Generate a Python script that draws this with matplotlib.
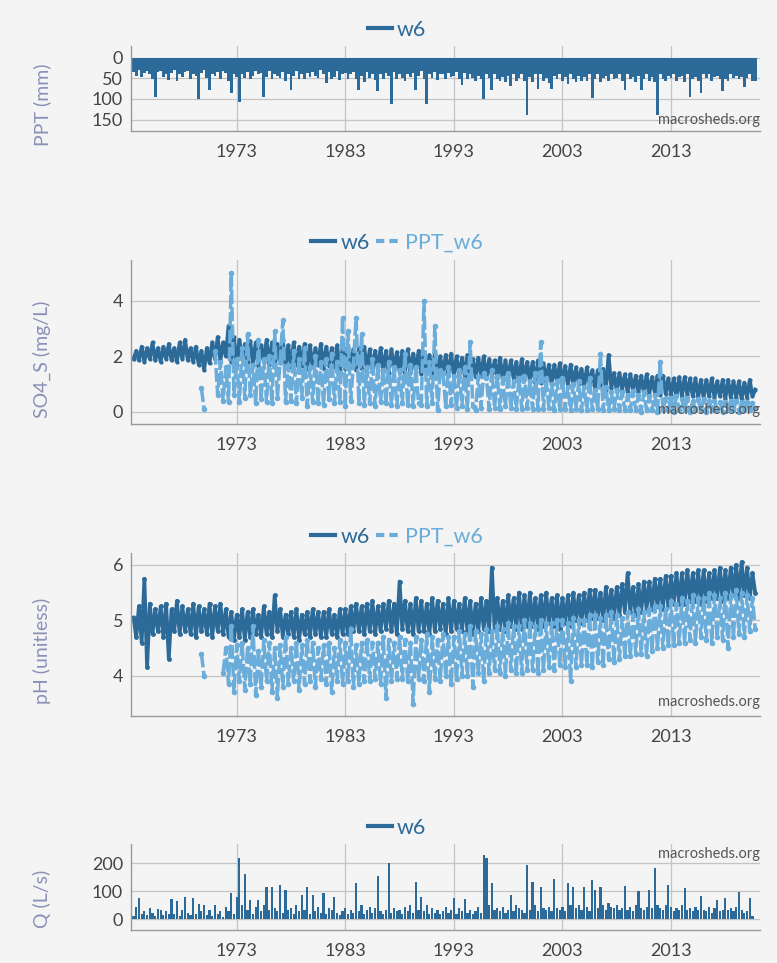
import numpy as np
import matplotlib
matplotlib.use("Agg")
import matplotlib.pyplot as plt
from matplotlib.lines import Line2D
from matplotlib import font_manager

# ---------------- data (quarterly readings from the picture) ----------------
W6_START = 1963.5      # first quarterly reading for stream / precip-depth series
PPTCHEM_START = 1969.75  # first reading of the precipitation-chemistry series
STEP = 0.25

ppt_mm = [
    34, 44,
    30, 48, 38, 33,  40, 52, 95, 35,  32, 46, 39, 54,  37, 31, 56, 40,
    47, 35, 33, 52,  39, 44, 101, 37, 31, 49, 79, 40,  44, 35, 52, 33,
    37, 58, 87, 41,  46, 107, 39, 49, 35, 53, 44, 33,  41, 37, 95, 46,
    33, 52, 39, 44,  49, 35, 58, 40,  79, 44, 33, 51,  39, 53, 37, 46,
    35, 44, 49, 31,  41, 62, 35, 52,  46, 33, 55, 39,  37, 51, 41, 35,
    52, 79, 44, 60,  35, 49, 39, 55,  82, 41, 51, 37,  44, 112, 35, 53,
    39, 49, 58, 41,  46, 37, 79, 44,  33, 53, 112, 39, 49, 35, 55, 41,
    39, 51, 37, 46,  44, 35, 53, 66,  37, 52, 41, 49,  58, 44, 51, 101,
    39, 49, 79, 41,  53, 58, 46, 60,  44, 70, 39, 56,  49, 41, 58, 139,
    46, 60, 39, 75,  41, 56, 49, 62,  75, 44, 53, 39,  58, 46, 64, 41,
    51, 60, 44, 56,  46, 58, 39, 98,  53, 41, 60, 49,  44, 56, 39, 51,
    49, 41, 58, 79,  39, 53, 46, 60,  44, 79, 51, 41,  56, 46, 60, 139,
    41, 51, 58, 44,  49, 39, 56, 46,  44, 60, 41, 95,  51, 46, 58, 87,
    41, 49, 39, 56,  46, 44, 53, 82,  51, 58, 41, 49,  44, 53, 46, 71,
    49, 41, 56, 58,
]

so4_w6 = [
    1.9, 2.2,
    1.85, 2.35, 1.8, 2.3,  1.9, 2.5, 1.85, 2.3,  1.8, 2.35, 1.9, 2.45,
    1.85, 2.3, 1.8, 2.5,  1.9, 2.6, 1.85, 2.3,  1.8, 2.35, 1.7, 2.2,
    1.5, 2.3, 1.75, 2.5,  1.9, 2.7, 1.85, 2.5,  2.0, 3.1, 1.8, 2.7,
    1.7, 2.6, 1.9, 2.45,  1.8, 2.55, 1.7, 2.5,  1.65, 2.4, 1.8, 2.6,
    1.7, 2.5, 1.6, 2.45,  1.75, 2.6, 1.65, 2.4,  1.6, 2.5, 1.7, 2.35,
    1.65, 2.45, 1.55, 2.4,  1.6, 2.3, 1.7, 2.45,  1.55, 2.35, 1.65, 2.3,
    1.6, 2.4, 1.5, 2.3,  1.55, 2.35, 1.6, 2.25,  1.5, 2.3, 1.55, 2.35,
    1.45, 2.25, 1.5, 2.2,  1.5, 2.3, 1.45, 2.2,  1.4, 2.25, 1.5, 2.15,
    1.45, 2.2, 1.4, 2.25,  1.4, 2.1, 1.45, 2.2,  1.35, 2.15, 1.4, 2.05,
    1.4, 2.1, 1.3, 2.0,  1.35, 2.05, 1.3, 2.1,  1.3, 2.0, 1.25, 1.95,
    1.3, 2.05, 1.2, 1.9,  1.25, 1.95, 1.3, 2.0,  1.2, 1.9, 1.25, 1.85,
    1.2, 1.95, 1.15, 1.85,  1.15, 1.85, 1.2, 1.8,  1.1, 1.9, 1.15, 1.8,
    1.1, 1.8, 1.05, 1.85,  1.05, 1.75, 1.1, 1.7,  1.0, 1.7, 1.05, 1.75,
    1.0, 1.65, 0.95, 1.7,  0.95, 1.6, 1.0, 1.55,  0.9, 1.6, 0.95, 1.5,
    0.85, 1.5, 0.9, 1.55,  0.8, 2.05, 0.85, 1.4,  0.75, 1.4, 0.8, 1.35,
    0.7, 1.35, 0.75, 1.3,  0.7, 1.3, 0.65, 1.35,  0.65, 1.25, 0.7, 1.3,
    0.6, 1.3, 0.65, 1.2,  0.6, 1.2, 0.55, 1.25,  0.55, 1.25, 0.6, 1.2,
    0.55, 1.2, 0.5, 1.15,  0.5, 1.15, 0.55, 1.2,  0.5, 1.1, 0.55, 1.15,
    0.45, 1.15, 0.5, 1.1,  0.5, 1.1, 0.45, 1.05,  0.5, 1.15, 0.55, 0.8,
]

so4_ppt_w6 = [
    0.85, 0.1, np.nan, np.nan, np.nan,
    2.2, 0.6, 1.8, 0.4,  1.6, 0.35, 5.0, 0.6,  1.9, 0.35, 2.3, 0.5,
    2.8, 0.6, 1.7, 0.3,  2.6, 0.45, 1.9, 0.35,  2.0, 0.3, 2.9, 0.5,
    1.8, 3.3, 0.35, 1.7,  0.4, 2.2, 0.3, 1.9,  0.5, 2.3, 0.2, 1.6,
    0.35, 2.0, 0.3, 1.8,  0.25, 1.9, 0.45, 2.1,  0.3, 1.8, 0.35, 3.4,
    0.2, 2.9, 0.4, 1.7,  3.4, 0.3, 2.8, 0.25,  1.6, 0.3, 1.9, 0.2,
    1.7, 0.35, 1.5, 0.3,  1.8, 0.25, 1.6, 0.2,  1.5, 0.3, 2.1, 0.25,
    1.7, 0.2, 1.6, 0.3,  0.25, 4.0, 0.2, 1.8,  0.3, 3.1, 0.05, 1.5,
    1.4, 0.2, 1.6, 0.25,  1.3, 0.15, 1.5, 0.2,  1.6, 0.1, 2.5, 0.2,
    0.05, 1.3, 0.15, 1.4,  1.2, 0.1, 1.5, 0.15,  1.3, 0.1, 1.2, 0.2,
    1.4, 0.15, 1.1, 0.1,  1.2, 0.1, 1.3, 0.15,  1.1, 0.1, 1.4, 0.1,
    2.5, 0.1, 1.2, 0.15,  1.0, 0.05, 1.1, 0.1,  1.2, 0.1, 0.9, 0.05,
    1.0, 0.1, 1.1, 0.05,  0.9, 0.05, 1.2, 0.1,  0.8, 0.1, 2.1, 0.05,
    0.9, 0.05, 0.7, 0.1,  0.8, 0.05, 0.7, 0.05,  0.6, 0.05, 0.75, 0.05,
    0.6, 0.0, 0.7, 0.05,  0.55, 0.05, 0.6, 0.0,  1.8, 0.05, 0.5, 0.05,
    0.5, 0.0, 0.55, 0.05,  0.45, 0.05, 0.5, 0.0,  0.4, 0.05, 0.45, 0.05,
    0.45, 0.0, 0.4, 0.05,  0.4, 0.05, 0.35, 0.0,  0.35, 0.05, 0.4, 0.05,
    0.4, 0.0, 0.35, 0.05,  0.35, 0.05, 0.3, 0.15,
]

ph_w6 = [
    5.05, 4.7,
    5.25, 4.6, 5.75, 4.15,  5.3, 4.75, 5.2, 4.8,  5.25, 4.7, 5.3, 4.3,
    5.2, 4.8, 5.35, 4.75,  5.25, 4.8, 5.2, 4.75,  5.3, 4.7, 5.25, 4.8,
    5.2, 4.75, 5.3, 4.7,  5.25, 4.8, 5.3, 4.75,  5.2, 4.7, 5.15, 4.65,
    5.1, 4.7, 5.2, 4.65,  5.15, 4.7, 5.2, 4.75,  5.1, 4.7, 5.25, 4.75,
    5.15, 4.7, 5.45, 4.8,  5.2, 4.7, 5.1, 4.75,  5.15, 4.7, 5.2, 4.65,
    5.1, 4.75, 5.15, 4.7,  5.2, 4.75, 5.15, 4.7,  5.15, 4.7, 5.2, 4.75,
    5.1, 4.7, 5.2, 4.75,  5.2, 4.75, 5.25, 4.8,  5.3, 4.8, 5.25, 4.75,
    5.3, 4.8, 5.35, 4.75,  5.25, 4.8, 5.3, 4.85,  5.35, 4.8, 5.3, 4.75,
    5.7, 4.85, 5.35, 4.8,  5.3, 4.75, 5.4, 4.8,  5.35, 4.8, 5.3, 4.75,
    5.4, 4.8, 5.35, 4.85,  5.3, 4.75, 5.4, 4.8,  5.35, 4.85, 5.3, 4.8,
    5.4, 4.8, 5.35, 4.75,  5.3, 4.8, 5.4, 4.85,  5.35, 4.8, 5.95, 4.85,
    5.4, 4.85, 5.35, 4.8,  5.45, 4.9, 5.4, 4.85,  5.5, 4.85, 5.45, 4.9,
    5.5, 4.9, 5.4, 4.85,  5.45, 4.9, 5.5, 4.95,  5.4, 4.9, 5.45, 4.85,
    5.4, 4.95, 5.45, 4.9,  5.5, 5.0, 5.45, 4.95,  5.5, 5.0, 5.55, 5.05,
    5.55, 5.05, 5.5, 5.0,  5.6, 5.1, 5.55, 5.05,  5.6, 5.1, 5.65, 5.15,
    5.85, 5.15, 5.6, 5.1,  5.65, 5.15, 5.7, 5.2,  5.7, 5.2, 5.75, 5.25,
    5.75, 5.2, 5.8, 5.25,  5.8, 5.3, 5.85, 5.3,  5.85, 5.3, 5.9, 5.35,
    5.85, 5.35, 5.9, 5.3,  5.9, 5.35, 5.85, 5.4,  5.9, 5.4, 5.95, 5.35,
    5.9, 5.4, 5.95, 5.45,  6.0, 5.4, 6.05, 5.45,  5.95, 5.4, 5.85, 5.5,
]

ph_ppt_w6 = [
    4.4, 4.0, np.nan, np.nan, np.nan, np.nan, np.nan, np.nan,
    4.05,
    4.5, 3.85, 4.9, 3.7,  4.55, 3.9, 4.6, 3.75,  4.5, 3.85, 4.9, 3.65,
    4.45, 3.8, 4.65, 3.9,  4.6, 3.7, 4.5, 3.6,  4.55, 3.8, 4.7, 3.85,
    4.5, 3.9, 4.6, 3.75,  4.55, 3.85, 4.65, 3.9,  4.6, 3.8, 4.5, 3.95,
    4.55, 3.85, 4.6, 3.7,  4.5, 3.9, 4.65, 3.85,  4.6, 3.9, 4.85, 3.8,
    4.55, 3.85, 4.6, 3.9,  4.65, 3.9, 4.6, 3.95,  4.6, 3.85, 4.7, 3.6,
    4.65, 3.9, 4.6, 3.95,  4.7, 3.95, 4.65, 3.9,  4.6, 3.5, 4.7, 3.95,
    4.65, 3.9, 4.75, 3.7,  4.7, 3.95, 4.65, 3.9,  4.75, 4.0, 4.7, 3.85,
    4.7, 3.95, 4.8, 4.0,  4.75, 4.0, 4.9, 3.8,  4.8, 4.05, 4.75, 3.9,
    4.85, 4.05, 4.8, 4.1,  4.9, 4.05, 4.85, 4.0,  4.95, 4.1, 4.9, 4.05,
    4.9, 4.05, 5.0, 4.1,  4.95, 4.1, 4.9, 4.05,  5.0, 4.1, 4.95, 4.15,
    4.95, 4.1, 5.0, 4.2,  5.0, 4.15, 4.95, 3.9,  5.05, 4.15, 5.0, 4.2,
    5.0, 4.2, 5.1, 4.15,  5.1, 4.25, 5.05, 4.2,  5.1, 4.3, 5.15, 4.25,
    5.1, 4.3, 5.05, 4.35,  5.15, 4.35, 5.1, 4.4,  5.2, 4.4, 5.15, 4.35,
    5.2, 4.45, 5.25, 4.5,  5.25, 4.5, 5.2, 4.55,  5.35, 4.55, 5.3, 4.6,
    5.4, 4.6, 5.35, 4.65,  5.45, 4.6, 5.4, 4.7,  5.4, 4.65, 5.5, 4.6,
    5.45, 4.7, 5.4, 4.65,  5.5, 4.5, 5.45, 4.7,  5.55, 4.75, 5.5, 4.7,
    5.45, 4.8, 5.4, 4.85,
]

q_ls = [
    12, 45,
    77, 18, 28, 15,  40, 22, 12, 38,  35, 15, 28, 18,  71, 18, 65, 12,
    32, 81, 22, 15,  77, 18, 55, 28,  50, 15, 32, 12,  50, 18, 28, 10,
    45, 28, 95, 18,  81, 218, 50, 162,  32, 69, 18, 45,  69, 28, 50, 117,
    32, 117, 40, 28,  123, 22, 105, 32,  40, 18, 50, 28,  87, 32, 117, 18,
    87, 28, 45, 22,  93, 18, 40, 32,  79, 22, 15, 28,  40, 18, 32, 22,
    129, 28, 50, 18,  32, 45, 22, 40,  155, 28, 18, 32,  200, 22, 40, 28,
    32, 18, 45, 28,  50, 22, 135, 32,  81, 28, 50, 18,  40, 22, 32, 18,
    28, 45, 22, 32,  75, 18, 40, 28,  71, 22, 32, 18,  28, 45, 22, 230,
    218, 50, 129, 32,  40, 28, 45, 22,  32, 87, 28, 50,  40, 32, 22, 194,
    32, 135, 50, 28,  117, 40, 32, 45,  28, 144, 40, 32,  45, 28, 129, 50,
    114, 40, 50, 32,  117, 45, 28, 140,  105, 40, 117, 50,  32, 60, 45, 40,
    50, 32, 40, 119,  32, 45, 28, 50,  102, 40, 32, 45,  105, 40, 182, 50,
    40, 32, 50, 123,  45, 28, 40, 32,  50, 111, 32, 40,  28, 45, 32, 85,
    32, 28, 45, 22,  40, 69, 28, 32,  75, 32, 40, 28,  45, 99, 32, 22,
    28, 75, 12,
]

series_names = ["w6", "PPT_w6"]
x_ticks = [1973, 1983, 1993, 2003, 2013]
x_tick_labels = ["1973", "1983", "1993", "2003", "2013"]
y_labels = ["PPT (mm)", "SO4_S (mg/L)", "pH (unitless)", "Q (L/s)"]

# ---------------- style ----------------
DARK = "#2b6a99"
LIGHT = "#6aacda"
BG = "#f4f4f4"
GRID = "#c4c4c4"
TICK = "#444444"
YLAB = "#8a90b8"

avail = {f.name for f in font_manager.fontManager.ttflist}
FONT = "Lato" if "Lato" in avail else "DejaVu Sans"
plt.rcParams["font.family"] = [FONT, "DejaVu Sans"]

def tgrid(start, n):
    return start + STEP * np.arange(n)

fig = plt.figure(figsize=(7.77, 9.63), dpi=100, facecolor=BG)

L, W = 0.1682, 0.810
rects = [
    (L, 0.8643, W, 0.0880),
    (L, 0.5597, W, 0.1703),
    (L, 0.2568, W, 0.1693),
    (L, 0.0343, W, 0.0893),
]
axes = [fig.add_axes(r, facecolor=BG) for r in rects]

for ax in axes:
    ax.set_axisbelow(True)
    ax.grid(True, color=GRID, lw=0.9)
    for s in ("top", "right"):
        ax.spines[s].set_visible(False)
    for s in ("left", "bottom"):
        ax.spines[s].set_color("#9a9a9a")
        ax.spines[s].set_linewidth(1.0)
    ax.set_xlim(1963.24, 2021.2)
    ax.set_xticks(x_ticks)
    ax.set_xticklabels(x_tick_labels)
    ax.tick_params(axis="x", length=0, pad=9.5, labelsize=13, labelcolor=TICK)
    ax.tick_params(axis="y", length=0, pad=5.5, labelsize=13, labelcolor=TICK)

# Panel 1: precipitation depth (bars hanging from 0)
ax = axes[0]
t = tgrid(W6_START, len(ppt_mm))
ax.bar(t, ppt_mm, width=STEP, color=DARK, linewidth=0)
ax.set_ylim(177, -28)
ax.set_yticks([0, 50, 100, 150])

# Panel 2: SO4_S
ax = axes[1]
ax.plot(tgrid(W6_START, len(so4_w6)), so4_w6, color=DARK, lw=2.7,
        marker="o", ms=3, mew=0)
ax.plot(tgrid(PPTCHEM_START, len(so4_ppt_w6)), so4_ppt_w6, color=LIGHT, lw=2.5,
        ls=(0, (4, 1)), marker="o", ms=4, mew=0)
ax.set_ylim(-0.445, 5.48)
ax.set_yticks([0, 2, 4])

# Panel 3: pH
ax = axes[2]
ax.plot(tgrid(W6_START, len(ph_w6)), ph_w6, color=DARK, lw=2.7,
        marker="o", ms=3.5, mew=0)
ax.plot(tgrid(PPTCHEM_START, len(ph_ppt_w6)), ph_ppt_w6, color=LIGHT, lw=2.5,
        ls=(0, (4, 1)), marker="o", ms=4, mew=0)
ax.set_ylim(3.28, 6.22)
ax.set_yticks([4, 5, 6])

# Panel 4: discharge
ax = axes[3]
ax.bar(tgrid(W6_START, len(q_ls)), q_ls, width=0.2, color=DARK, linewidth=0)
ax.set_ylim(-38, 269)
ax.set_yticks([0, 100, 200])

# watermarks
for i, ax in enumerate(axes):
    if i == 3:
        ax.text(1.0, 0.97, "macrosheds.org", transform=ax.transAxes, ha="right",
                va="top", color="#555555", fontsize=10.5)
    else:
        ax.text(1.0, 0.04, "macrosheds.org", transform=ax.transAxes, ha="right",
                va="bottom", color="#555555", fontsize=10.5)

# legends
leg_y = [1 - 30 / 963, 1 - 243 / 963, 1 - 537 / 963, 1 - 828 / 963]
for i, y in enumerate(leg_y):
    handles = [Line2D([], [], color=DARK, lw=3)]
    labels = [series_names[0]]
    if i in (1, 2):
        handles.append(Line2D([], [], color=LIGHT, lw=3, ls=(0, (2, 1.2))))
        labels.append(series_names[1])
    leg = fig.legend(handles, labels, loc="center", bbox_to_anchor=(0.511, y),
                     ncol=len(labels), frameon=False, fontsize=15.5,
                     handlelength=1.1, handletextpad=0.25, columnspacing=0.3,
                     borderaxespad=0, borderpad=0)
    for txt, col in zip(leg.get_texts(), [DARK, LIGHT]):
        txt.set_color(col)

# y labels
ylab_y = [1 - 105 / 963, 1 - 359 / 963, 1 - 651 / 963, 1 - 899 / 963]
for lab, y in zip(y_labels, ylab_y):
    fig.text(0.054, y, lab, rotation=90, ha="center", va="center",
             color=YLAB, fontsize=14)

fig.savefig("out.png", dpi=100, facecolor=BG)
